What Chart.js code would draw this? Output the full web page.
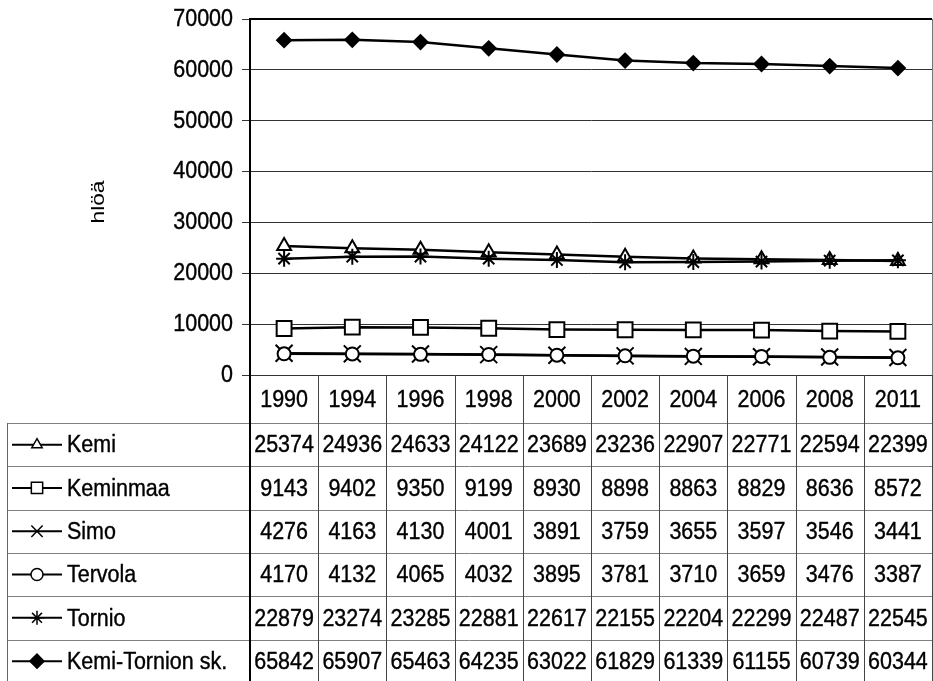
<!DOCTYPE html>
<html lang="fi">
<head>
  <meta charset="UTF-8">
  <title>Väkiluku 1990-2011</title>
  <style>
    html, body { margin: 0; padding: 0; background: #fff; }
    #wrap { width: 933px; height: 681px; position: relative; }
  </style>
</head>
<body>
  <div id="wrap"><canvas id="chart" width="933" height="681"></canvas></div>

  <script src="https://cdn.jsdelivr.net/npm/chart.js"></script>
  <script>
    // Data
    const years = ['1990', '1994', '1996', '1998', '2000', '2002', '2004', '2006', '2008', '2011'];
    const kemi = [25374, 24936, 24633, 24122, 23689, 23236, 22907, 22771, 22594, 22399];
    const keminmaa = [9143, 9402, 9350, 9199, 8930, 8898, 8863, 8829, 8636, 8572];
    const simo = [4276, 4163, 4130, 4001, 3891, 3759, 3655, 3597, 3546, 3441];
    const tervola = [4170, 4132, 4065, 4032, 3895, 3781, 3710, 3659, 3476, 3387];
    const tornio = [22879, 23274, 23285, 22881, 22617, 22155, 22204, 22299, 22487, 22545];
    const seutukunta = [65842, 65907, 65463, 64235, 63022, 61829, 61339, 61155, 60739, 60344];
    const yTicks = [0, 10000, 20000, 30000, 40000, 50000, 60000, 70000];

    const FONT = '"Liberation Sans", Arial, sans-serif';
    const FONT_PX = 21.5;
    const STRETCH = 1.15; // glyphs are a bit taller than plain Arial

    function series(label, data, style, radius, fill, order) {
      return {
        label: label,
        data: data,
        borderColor: '#000',
        borderWidth: 2.5,
        pointStyle: style,
        pointRadius: radius,
        pointHoverRadius: radius,
        pointBorderWidth: 2,
        pointBorderColor: '#000',
        pointBackgroundColor: fill,
        tension: 0,
        order: order
      };
    }

    const datasets = [
      series('Kemi', kemi, 'triangle', 8, '#fff', 2),
      series('Keminmaa', keminmaa, 'rect', 10.5, '#fff', 1),
      series('Simo', simo, 'crossRot', 12, '#fff', 2),
      series('Tervola', tervola, 'circle', 6.5, '#fff', 1),
      series('Tornio', tornio, 'star', 8, '#fff', 1),
      series('Kemi-Tornion sk.', seutukunta, 'rectRot', 7, '#000', 1)
    ];

    // marker sizes in the table key
    const legendRadius = [6, 8, 8, 6, 7, 7];

    function text(ctx, str, x, y, align) {
      ctx.save();
      ctx.translate(x, y);
      ctx.scale(1, STRETCH);
      ctx.textAlign = align;
      ctx.fillText(str, 0, 0);
      ctx.lineWidth = 0.35;
      ctx.strokeStyle = '#000';
      ctx.strokeText(str, 0, 0);
      ctx.restore();
    }

    const tablePlugin = {
      id: 'dataTable',
      afterDraw(chart) {
        const ctx = chart.ctx;
        const area = chart.chartArea;
        const x = chart.scales.x;
        const y = chart.scales.y;
        const colW = (area.right - area.left) / years.length;
        const headTop = area.bottom;
        const rowTop = 423;
        const rowH = 43.3;
        const left = 7;

        ctx.save();

        // plot frame: top and right
        ctx.strokeStyle = '#000';
        ctx.lineWidth = 2;
        ctx.beginPath();
        ctx.moveTo(area.left, area.top);
        ctx.lineTo(area.right, area.top);
        ctx.stroke();
        ctx.strokeStyle = '#777';
        ctx.lineWidth = 1;
        ctx.beginPath();
        ctx.moveTo(area.right + 0.5, area.top);
        ctx.lineTo(area.right + 0.5, area.bottom);
        ctx.stroke();

        // horizontal rules
        ctx.strokeStyle = '#808080';
        ctx.lineWidth = 1;
        for (let r = 0; r < datasets.length; r++) {
          const ry = Math.round(rowTop + r * rowH) + 0.5;
          ctx.beginPath();
          ctx.moveTo(left, ry);
          ctx.lineTo(area.right, ry);
          ctx.stroke();
        }

        // vertical rules
        ctx.strokeStyle = '#444';
        for (let k = 1; k <= years.length; k++) {
          const vx = Math.round(area.left + k * colW) + 0.5;
          ctx.beginPath();
          ctx.moveTo(vx, headTop);
          ctx.lineTo(vx, chart.height);
          ctx.stroke();
        }
        ctx.strokeStyle = '#666';
        ctx.beginPath();
        ctx.moveTo(left + 0.5, rowTop);
        ctx.lineTo(left + 0.5, chart.height);
        ctx.stroke();
        ctx.strokeStyle = '#000';
        ctx.lineWidth = 2;
        ctx.beginPath();
        ctx.moveTo(area.left, headTop);
        ctx.lineTo(area.left, chart.height);
        ctx.stroke();

        ctx.fillStyle = '#000';
        ctx.font = FONT_PX + 'px ' + FONT;
        ctx.textBaseline = 'middle';

        // y tick labels
        yTicks.forEach(v => {
          text(ctx, String(v), 233, y.getPixelForValue(v), 'right');
        });

        // header years
        years.forEach((yr, i) => {
          text(ctx, yr, x.getPixelForValue(i), (headTop + rowTop) / 2 + 1, 'center');
        });

        // rows
        datasets.forEach((ds, r) => {
          const cy = rowTop + r * rowH + rowH / 2 + 1;
          ds.data.forEach((v, i) => {
            text(ctx, String(v), x.getPixelForValue(i), cy, 'center');
          });

          // key: line with marker
          ctx.strokeStyle = '#000';
          ctx.lineWidth = 2;
          ctx.beginPath();
          ctx.moveTo(12, cy - 1);
          ctx.lineTo(62, cy - 1);
          ctx.stroke();
          ctx.fillStyle = ds.pointBackgroundColor;
          ctx.lineWidth = 1.5;
          Chart.helpers.drawPoint(ctx, {
            pointStyle: ds.pointStyle,
            radius: legendRadius[r],
            borderWidth: 1.5,
            rotation: 0
          }, 37, cy - 1);
          ctx.fillStyle = '#000';
          text(ctx, ds.label, 67, cy, 'left');
        });

        // y axis title
        ctx.save();
        ctx.translate(99, 202);
        ctx.rotate(-Math.PI / 2);
        ctx.scale(1.2, 1);
        ctx.textAlign = 'center';
        ctx.font = '19px ' + FONT;
        ctx.fillText('hlöä', 0, 0);
        ctx.restore();

        ctx.restore();
      }
    };

    new Chart(document.getElementById('chart'), {
      type: 'line',
      data: { labels: years, datasets: datasets },
      options: {
        responsive: false,
        animation: false,
        layout: { autoPadding: false, padding: { top: 19, right: 1, left: 0, bottom: 0 } },
        plugins: {
          legend: { display: false },
          tooltip: { enabled: false }
        },
        scales: {
          x: {
            offset: true,
            grid: { display: false },
            border: { display: false },
            ticks: { display: false },
            afterFit(scale) { scale.height = 306; }
          },
          y: {
            min: 0,
            max: 70000,
            afterFit(scale) { scale.width = 250; },
            afterBuildTicks(scale) { scale.ticks = yTicks.map(v => ({ value: v })); },
            grid: {
              color: '#333',
              lineWidth: 1,
              tickLength: 8
            },
            border: { color: '#000', width: 2 },
            ticks: { display: false }
          }
        }
      },
      plugins: [tablePlugin]
    });
  </script>
</body>
</html>
